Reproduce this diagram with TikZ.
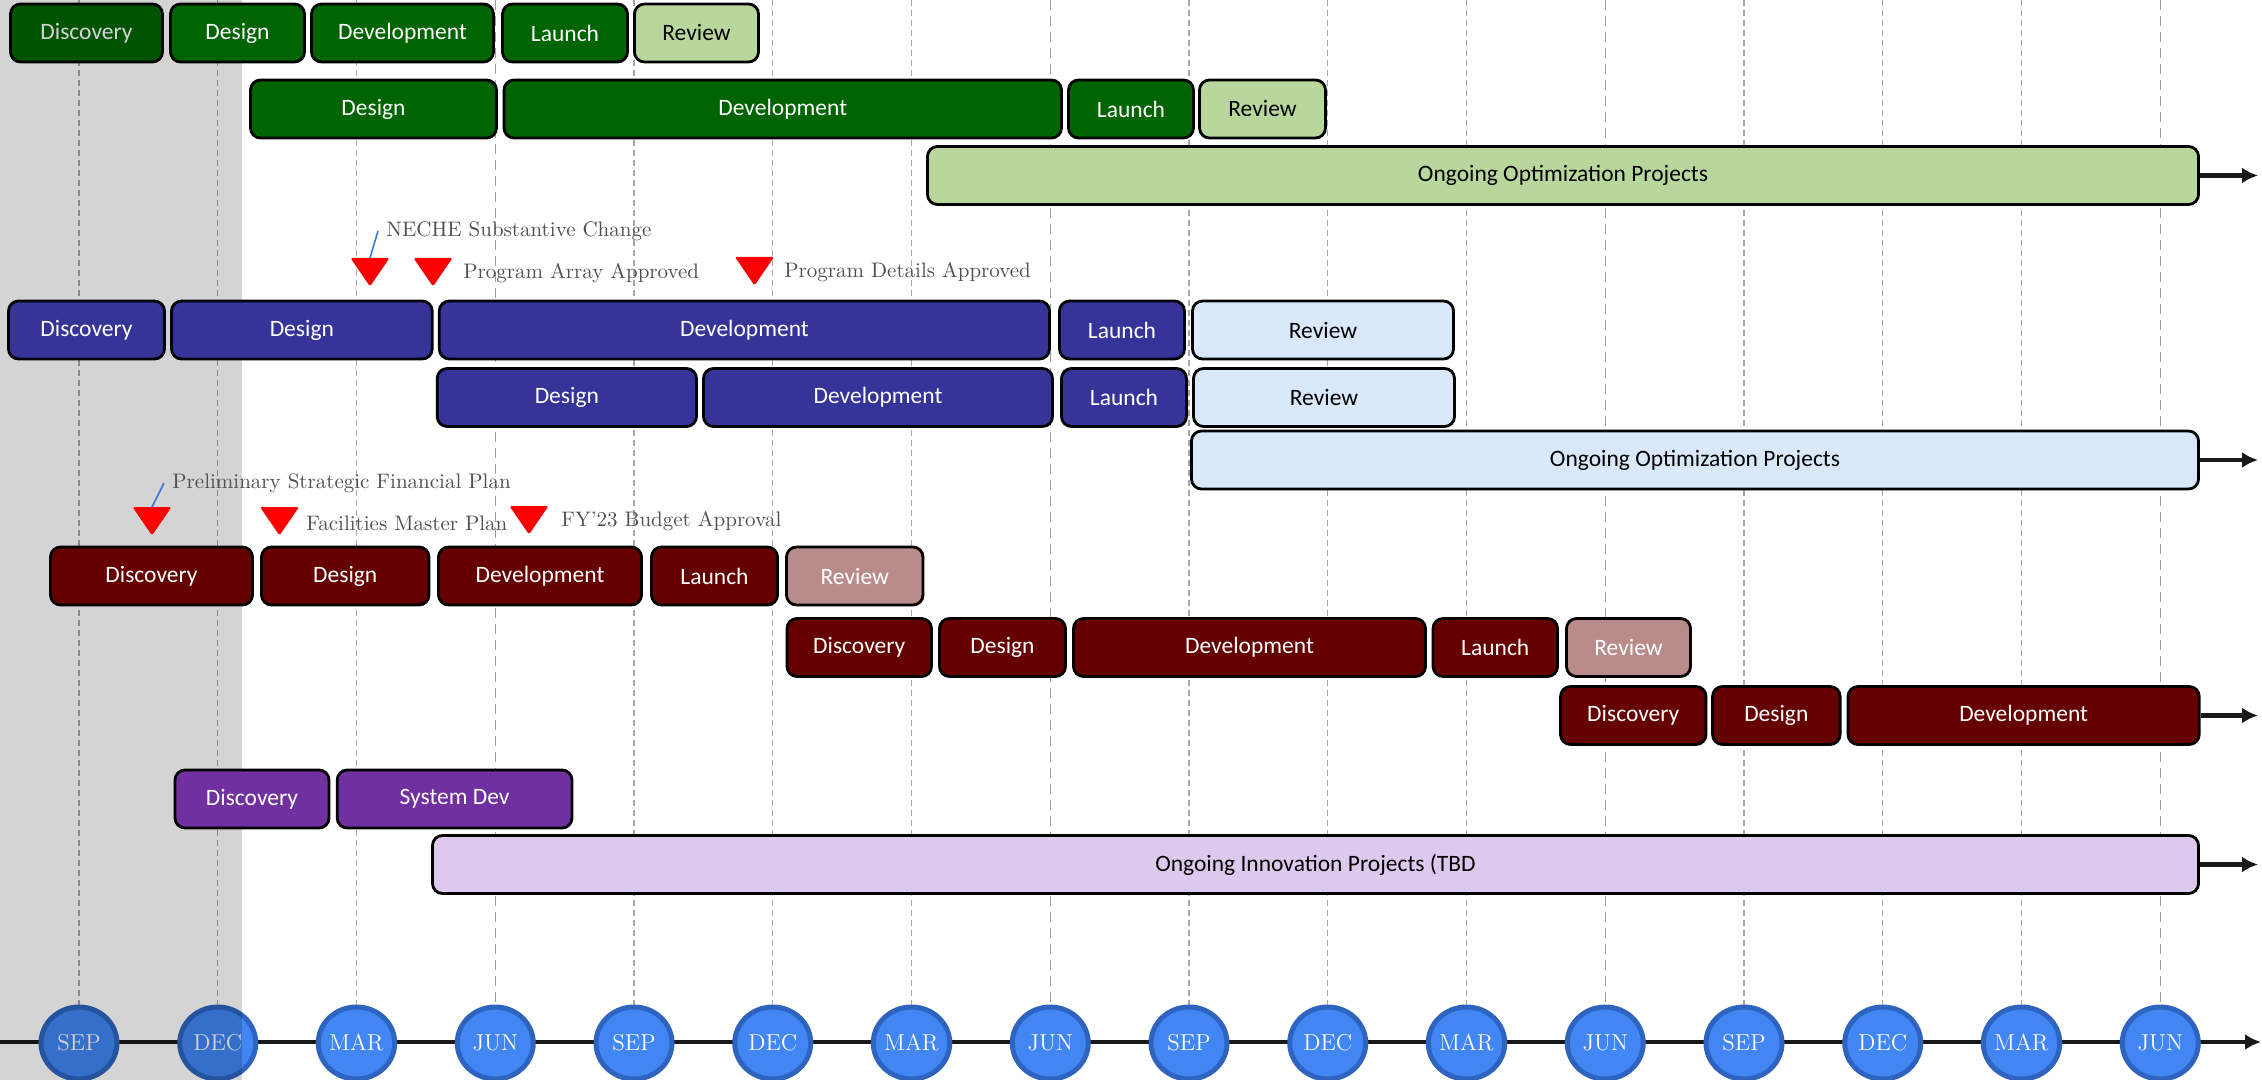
\documentclass[tikz,border=0pt]{standalone}
\usepackage{fontspec}
\usepackage{xcolor}
\usepackage{tikz}
\usetikzlibrary{shapes,arrows.meta,positioning}
\tikzset{>={Latex[length=8pt,width=8pt]}}
\newfontfamily\boxfont{Carlito}

\definecolor{dkgreen}{RGB}{0,100,0}
\definecolor{ltgreen}{RGB}{185,215,157}
\definecolor{navy}{RGB}{54,52,153}
\definecolor{ltblue}{RGB}{218,232,252}
\definecolor{maroon}{RGB}{102,0,0}
\definecolor{ltmaroon}{RGB}{186,139,139}
\definecolor{violet}{RGB}{112,48,160}
\definecolor{lavender}{RGB}{222,201,238}
\definecolor{monthfill}{RGB}{66,134,244}
\definecolor{monthdraw}{RGB}{46,100,191}
\definecolor{notegray}{RGB}{80,80,80}
\definecolor{leaderblue}{RGB}{60,120,220}

\begin{document}
\begin{tikzpicture}[x=0.5pt, y=-0.5pt,
                    phase/.style={draw=black, line width=1.4pt, rounded corners=5pt, minimum height=29pt,
                                  inner sep=0pt, text=white, font=\boxfont\fontsize{11.75}{14}\selectfont},
                    note/.style={anchor=west, inner sep=4pt, text=notegray, font=\fontsize{10.5}{12}\selectfont},
                    leader/.style={leaderblue, line width=0.8pt},
                    month/.style={ellipse, draw=monthdraw, fill=monthfill, line width=2.5pt, minimum width=38pt,
                                  minimum height=36pt, inner sep=0pt, text=white, font=\fontsize{11.5}{13}\selectfont},
                    monthline/.style={black!35, line width=0.6pt, dash pattern=on 3pt off 2pt},
                    junline/.style={black!38, line width=0.7pt, dash pattern=on 5pt off 3pt},
                    timeline/.style={line width=2pt, black!90, ->},
                    carry/.style={line width=2.4pt, black!90, ->},
                    milestone/.pic={\fill[red, rounded corners=0.8pt] (-19.5,0) -- (19.5,0) -- (0,28.5) -- cycle;},
                   ]

\useasboundingbox (0,0) rectangle (2262,1080);

% month grid and time axis
\foreach \i in {0,1,2,4,5,6,8,9,10,12,13,14} \draw[monthline] (79+138.75*\i,0) -- (79+138.75*\i,1040);
\foreach \i in {3,7,11,15} \draw[junline] (79+138.75*\i,0) -- (79+138.75*\i,1040);

\coordinate (tlstart) at (0,1042);
\coordinate (tlend) at (2261,1042);
\draw[timeline] (tlstart) -- (tlend);

\foreach \m [count=\i from 0] in {SEP,DEC,MAR,JUN,SEP,DEC,MAR,JUN,SEP,DEC,MAR,JUN,SEP,DEC,MAR,JUN}
    \node[month] (m\i) at (79+138.75*\i,1043) {\m};

\node[phase, fill=dkgreen, minimum width=76pt] (gA1) at (86.5,33) {Discovery};

% past period
\fill[black, opacity=.17] (0,0) rectangle (242,1080);

% green
\node[phase, fill=dkgreen, minimum width=67pt] (gA2) at (237.5,33) {Design};
\node[phase, fill=dkgreen, minimum width=91pt] (gA3) at (402.5,33) {Development};
\node[phase, fill=dkgreen, minimum width=62.5pt] (gA4) at (565,33) {Launch};
\node[phase, fill=ltgreen, text=black, minimum width=62pt] (gA5) at (696.5,33) {Review};

\node[phase, fill=dkgreen, minimum width=123pt] (gB1) at (373.5,109) {Design};
\node[phase, fill=dkgreen, minimum width=278.75pt] (gB2) at (782.75,109) {Development};
\node[phase, fill=dkgreen, minimum width=62.5pt] (gB3) at (1131,109) {Launch};
\node[phase, fill=ltgreen, text=black, minimum width=63pt] (gB4) at (1262.5,109) {Review};

\node[phase, fill=ltgreen, text=black, minimum width=635.5pt] (optA) at (1563,175.5) {Ongoing Optimization Projects};
\coordinate (optAend) at (2258,175.5);
\draw[carry] (optA) -- (optAend);

% navy
\node[note] (neche) at (378,231) {NECHE Substantive Change};
\coordinate (ms1) at (370,258);
\pic at (ms1) {milestone};
\draw[leader] (neche.west) -- (ms1);
\coordinate (ms2) at (433,258);
\pic at (ms2) {milestone};
\node[note] (array) at (455,273) {Program Array Approved};
\coordinate (ms3) at (754.5,257);
\pic at (ms3) {milestone};
\node[note] (details) at (776,272) {Program Details Approved};

\node[phase, fill=navy, minimum width=78pt] (bD1) at (86.5,330) {Discovery};
\node[phase, fill=navy, minimum width=130.35pt] (bD2) at (301.85,330) {Design};
\node[phase, fill=navy, minimum width=305.1pt] (bD3) at (744.4,330) {Development};
\node[phase, fill=navy, minimum width=62.5pt] (bD4) at (1122,330) {Launch};
\node[phase, fill=ltblue, text=black, minimum width=130.5pt] (bD5) at (1323,330) {Review};

\node[phase, fill=navy, minimum width=129.65pt] (bE1) at (566.85,397.5) {Design};
\node[phase, fill=navy, minimum width=174.5pt] (bE2) at (878,397.5) {Development};
\node[phase, fill=navy, minimum width=62.5pt] (bE3) at (1124,397.5) {Launch};
\node[phase, fill=ltblue, text=black, minimum width=130.5pt] (bE4) at (1324,397.5) {Review};

\node[phase, fill=ltblue, text=black, minimum width=503.5pt] (optB) at (1695,460) {Ongoing Optimization Projects};
\coordinate (optBend) at (2258,460);
\draw[carry] (optB) -- (optBend);

% maroon
\node[note] (sfp) at (164,483) {Preliminary Strategic Financial Plan};
\coordinate (ms4) at (152,507);
\pic at (ms4) {milestone};
\draw[leader] (sfp.west) -- (ms4);
\coordinate (ms5) at (279.5,507);
\pic at (ms5) {milestone};
\node[note] (fmp) at (298,523) {Facilities Master Plan};
\coordinate (ms6) at (529,506);
\pic at (ms6) {milestone};
\node[note] (budget) at (553,521) {FY'23 Budget Approval};

\node[phase, fill=maroon, minimum width=101pt] (rG1) at (151.5,576) {Discovery};
\node[phase, fill=maroon, minimum width=83.75pt] (rG2) at (345.25,576) {Design};
\node[phase, fill=maroon, minimum width=101.5pt] (rG3) at (540,576) {Development};
\node[phase, fill=maroon, minimum width=63pt] (rG4) at (714.5,576) {Launch};
\node[phase, fill=ltmaroon, minimum width=68.25pt] (rG5) at (854.75,576) {Review};

\node[phase, fill=maroon, minimum width=72.25pt] (rH1) at (859.25,647.5) {Discovery};
\node[phase, fill=maroon, minimum width=63pt] (rH2) at (1002.5,647.5) {Design};
\node[phase, fill=maroon, minimum width=176pt] (rH3) at (1249.5,647.5) {Development};
\node[phase, fill=maroon, minimum width=62.25pt] (rH4) at (1495.25,647.5) {Launch};
\node[phase, fill=ltmaroon, minimum width=62pt] (rH5) at (1628.5,647.5) {Review};

\node[phase, fill=maroon, minimum width=72.75pt] (rI1) at (1633.25,715.5) {Discovery};
\node[phase, fill=maroon, minimum width=63.8pt] (rI2) at (1776.3,715.5) {Design};
\node[phase, fill=maroon, minimum width=175.6pt] (rI3) at (2023.6,715.5) {Development};
\coordinate (rIend) at (2258,715.5);
\draw[carry] (rI3) -- (rIend);

% purple
\node[phase, fill=violet, minimum width=77pt] (pJ1) at (252,799) {Discovery};
\node[phase, fill=violet, minimum width=117.4pt] (pJ2) at (454.6,799) {System Dev};

\node[phase, fill=lavender, text=black, minimum width=883pt] (innov) at (1315.5,864.5) {Ongoing Innovation Projects (TBD};
\coordinate (innovend) at (2258,864.5);
\draw[carry] (innov) -- (innovend);

\end{tikzpicture}
\end{document}
